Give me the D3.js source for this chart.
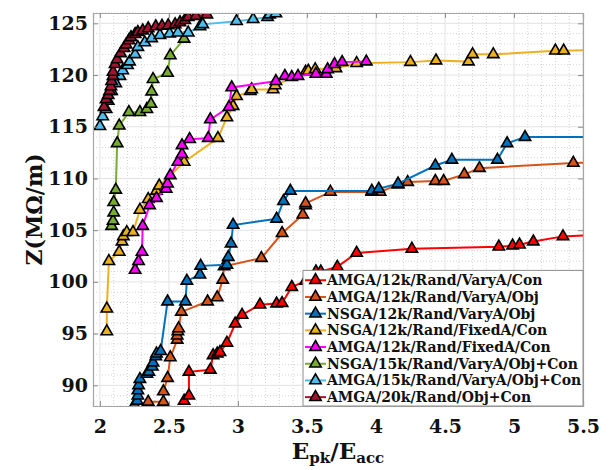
<!DOCTYPE html>
<html>
<head>
<meta charset="utf-8">
<script src="https://cdn.jsdelivr.net/npm/d3@7"></script>
<style>
    body { margin: 0; background: #fff; }
    text { font-family: "DejaVu Serif", serif; font-weight: bold; fill: #111; }
</style>
</head>
<body>
<div id="chart"></div>
<script>

let series_names = [
    "AMGA/12k/Rand/VaryA/Con",
    "AMGA/12k/Rand/VaryA/Obj",
    "NSGA/12k/Rand/VaryA/Obj",
    "NSGA/12k/Rand/FixedA/Con",
    "AMGA/12k/Rand/FixedA/Con",
    "NSGA/15k/Rand/VaryA/Obj+Con",
    "AMGA/15k/Rand/VaryA/Obj+Con",
    "AMGA/20k/Rand/Obj+Con",
];

let series_colors = ["#ff0000", "#d95319", "#0072bd", "#edb120", "#ff00ff", "#77ac30", "#4dbeee", "#a2142f"];

let x_ticks = [2, 2.5, 3, 3.5, 4, 4.5, 5, 5.5];
let y_ticks = [90, 95, 100, 105, 110, 115, 120, 125];

// AMGA/12k/Rand/VaryA/Con
let amga12_varya_con_x = [2.61, 2.645, 2.645, 2.80, 2.82, 2.85, 2.87, 2.92, 2.98, 3.03, 3.16, 3.28, 3.32, 3.39, 3.49, 3.565, 3.60, 3.72, 3.86, 4.26, 4.89, 4.99, 5.04, 5.14, 5.355, 5.7];
let amga12_varya_con_y = [88.5, 89.0, 91.3, 91.5, 92.9, 93.05, 93.2, 94.1, 95.95, 96.8, 97.8, 97.9, 97.95, 99.5, 100.1, 101.0, 101.0, 101.45, 102.8, 103.2, 103.4, 103.5, 103.6, 103.9, 104.4, 104.6];

// AMGA/12k/Rand/VaryA/Obj
let amga12_varya_obj_x = [2.35, 2.46, 2.46, 2.49, 2.51, 2.56, 2.56, 2.565, 2.57, 2.59, 2.78, 2.85, 2.89, 2.90, 3.17, 3.32, 3.47, 3.49, 3.49, 3.67, 3.97, 4.03, 4.16, 4.23, 4.43, 4.49, 4.64, 4.75, 5.43, 5.7];
let amga12_varya_obj_y = [88.4, 88.4, 89.4, 90.7, 92.7, 94.4, 94.8, 95.2, 95.5, 97.1, 98.1, 98.5, 100.2, 101.5, 102.3, 104.7, 106.5, 107.4, 107.6, 108.7, 108.7, 108.7, 109.4, 109.65, 109.75, 109.75, 110.4, 111.0, 111.5, 111.6];

// NSGA/12k/Rand/VaryA/Obj
let nsga12_varya_obj_x = [2.25, 2.27, 2.275, 2.275, 2.28, 2.29, 2.34, 2.355, 2.38, 2.385, 2.405, 2.41, 2.44, 2.49, 2.62, 2.63, 2.725, 2.73, 2.92, 2.93, 2.95, 2.965, 3.28, 3.33, 3.38, 3.97, 4.02, 4.16, 4.43, 4.55, 4.88, 4.95, 5.08, 5.7];
let nsga12_varya_obj_y = [88.1, 88.5, 89.0, 89.5, 90.0, 90.6, 91.1, 91.3, 91.8, 92.2, 92.8, 93.05, 93.3, 98.1, 98.1, 100.1, 100.7, 101.55, 101.65, 102.4, 103.7, 105.5, 106.1, 107.8, 108.8, 108.8, 109.0, 109.5, 111.25, 111.8, 111.8, 113.4, 114.0, 114.0];

// NSGA/12k/Rand/FixedA/Con
let nsga12_fixeda_con_x = [2.05, 2.05, 2.065, 2.14, 2.16, 2.17, 2.195, 2.24, 2.29, 2.35, 2.41, 2.43, 2.61, 2.855, 2.92, 2.965, 2.99, 3.09, 3.10, 3.255, 3.27, 3.49, 3.51, 3.56, 3.71, 3.86, 4.25, 4.435, 4.67, 4.70, 4.85, 5.30, 5.36, 5.7];
let nsga12_fixeda_con_y = [95.2, 97.4, 102.0, 102.9, 103.9, 104.4, 104.8, 104.8, 106.95, 108.0, 108.8, 109.3, 111.6, 113.9, 115.9, 117.0, 117.95, 118.45, 118.6, 118.6, 119.0, 120.3, 120.4, 120.55, 120.65, 121.15, 121.25, 121.4, 121.3, 122.0, 122.0, 122.35, 122.35, 122.45];

// AMGA/12k/Rand/FixedA/Con
let amga12_fixeda_con_x = [2.255, 2.28, 2.305, 2.31, 2.36, 2.41, 2.48, 2.49, 2.51, 2.565, 2.595, 2.595, 2.65, 2.785, 2.80, 2.935, 2.955, 3.275, 3.34, 3.39, 3.435, 3.565, 3.64, 3.65, 3.70, 3.755, 3.93];
let amga12_fixeda_con_y = [101.15, 102.0, 102.9, 105.4, 107.4, 108.1, 109.0, 109.5, 110.3, 111.6, 112.35, 113.2, 113.8, 113.9, 115.7, 116.9, 118.8, 119.4, 119.9, 119.8, 119.9, 120.1, 120.1, 120.55, 121.05, 121.25, 121.3];

// NSGA/15k/Rand/VaryA/Obj+Con
let nsga15_varya_objcon_x = [2.085, 2.095, 2.10, 2.10, 2.115, 2.125, 2.14, 2.21, 2.29, 2.34, 2.37, 2.375, 2.385, 2.49, 2.51, 2.61];
let nsga15_varya_objcon_y = [105.4, 105.9, 106.7, 107.7, 108.9, 113.4, 115.1, 116.4, 116.4, 116.7, 117.2, 118.4, 119.6, 120.2, 121.9, 123.5];

// AMGA/15k/Rand/VaryA/Obj+Con
let amga15_varya_objcon_x = [2.0, 2.02, 2.045, 2.06, 2.085, 2.115, 2.145, 2.165, 2.20, 2.215, 2.255, 2.275, 2.325, 2.375, 2.435, 2.505, 2.565, 2.64, 2.725, 2.745, 2.99, 3.11, 3.215, 3.23, 3.275];
let amga15_varya_objcon_y = [115.05, 116.0, 116.7, 117.5, 118.45, 119.2, 119.9, 120.45, 120.95, 121.3, 122.0, 122.7, 123.15, 123.55, 123.85, 124.0, 124.1, 124.1, 124.7, 124.9, 125.2, 125.4, 125.6, 125.85, 125.95];

// AMGA/20k/Rand/Obj+Con
let amga20_objcon_x = [2.03, 2.045, 2.06, 2.07, 2.08, 2.085, 2.095, 2.095, 2.11, 2.125, 2.15, 2.175, 2.19, 2.21, 2.225, 2.255, 2.275, 2.31, 2.35, 2.405, 2.45, 2.495, 2.545, 2.58, 2.615, 2.64, 2.695, 2.775];
let amga20_objcon_y = [116.9, 117.65, 118.05, 118.45, 118.9, 119.4, 119.9, 120.3, 121.05, 121.5, 122.1, 122.6, 122.95, 123.35, 123.65, 123.95, 124.15, 124.3, 124.5, 124.7, 124.75, 124.8, 124.9, 125.1, 125.3, 125.6, 125.7, 125.85];

let series_x = [amga12_varya_con_x, amga12_varya_obj_x, nsga12_varya_obj_x, nsga12_fixeda_con_x,
    amga12_fixeda_con_x, nsga15_varya_objcon_x, amga15_varya_objcon_x, amga20_objcon_x];
let series_y = [amga12_varya_con_y, amga12_varya_obj_y, nsga12_varya_obj_y, nsga12_fixeda_con_y,
    amga12_fixeda_con_y, nsga15_varya_objcon_y, amga15_varya_objcon_y, amga20_objcon_y];

let settings = {
    width: 610,
    height: 470,
    left: 93,
    top: 13,
    right: 27,
    bottom: 64,
    tick_len: 5,
    marker_size: 56,
    legend_width: 280,
    legend_row: 16.7,
};

function draw() {
    let w = settings.width, h = settings.height;
    let svg = d3.select("#chart").append("svg")
        .attr("width", w)
        .attr("height", h);

    let x0 = settings.left, x1 = w - settings.right;
    let y0 = settings.top, y1 = h - settings.bottom;

    let x = d3.scaleLinear().domain([1.95, 5.5]).range([x0, x1]);
    let y = d3.scaleLinear().domain([88, 126]).range([y1, y0]);

    // minor grid
    let grid = svg.append("g");
    grid.selectAll("line.minx")
        .data(d3.range(20, 55).map(d => d / 10).filter(d => !x_ticks.includes(d)))
        .enter().append("line")
        .attr("x1", d => x(d)).attr("x2", d => x(d))
        .attr("y1", y0).attr("y2", y1)
        .attr("stroke", "#d4d4d4").attr("stroke-dasharray", "1,2");
    grid.selectAll("line.miny")
        .data(d3.range(88, 127).filter(d => !y_ticks.includes(d)))
        .enter().append("line")
        .attr("y1", d => y(d)).attr("y2", d => y(d))
        .attr("x1", x0).attr("x2", x1)
        .attr("stroke", "#d4d4d4").attr("stroke-dasharray", "1,2");
    // major grid
    grid.selectAll("line.majx").data(x_ticks).enter().append("line")
        .attr("x1", d => x(d)).attr("x2", d => x(d))
        .attr("y1", y0).attr("y2", y1)
        .attr("stroke", "#e2e2e2");
    grid.selectAll("line.majy").data(y_ticks).enter().append("line")
        .attr("y1", d => y(d)).attr("y2", d => y(d))
        .attr("x1", x0).attr("x2", x1)
        .attr("stroke", "#e2e2e2");

    svg.append("clipPath").attr("id", "plot_clip")
        .append("rect")
        .attr("x", x0).attr("y", y0)
        .attr("width", x1 - x0).attr("height", y1 - y0);

    let plot = svg.append("g").attr("clip-path", "url(#plot_clip)");
    let line = d3.line().x(d => x(d[0])).y(d => y(d[1]));
    let tri = d3.symbol(d3.symbolTriangle, settings.marker_size);

    for (let [i, xs] of series_x.entries()) {
        let pts = xs.map((v, j) => [v, series_y[i][j]]);
        let g = plot.append("g");
        g.append("path")
            .attr("d", line(pts))
            .attr("fill", "none")
            .attr("stroke", series_colors[i])
            .attr("stroke-width", 2);
        g.selectAll("path.m").data(pts).enter().append("path")
            .attr("d", tri)
            .attr("transform", d => "translate(" + x(d[0]) + "," + y(d[1]) + ")")
            .attr("fill", series_colors[i])
            .attr("stroke", "#000")
            .attr("stroke-width", 1.6);
    }

    // axes, ticks pointing inward on all four sides
    let ax = svg.append("g");
    let bottom = d3.axisBottom(x).tickValues(x_ticks).tickSize(-settings.tick_len).tickPadding(14).tickFormat(d3.format("~g"));
    let top = d3.axisTop(x).tickValues(x_ticks).tickSize(-settings.tick_len).tickFormat("");
    let left = d3.axisLeft(y).tickValues(y_ticks).tickSize(-settings.tick_len).tickPadding(5);
    let right = d3.axisRight(y).tickValues(y_ticks).tickSize(-settings.tick_len).tickFormat("");

    ax.append("g").attr("transform", "translate(0," + y1 + ")").call(bottom);
    ax.append("g").attr("transform", "translate(0," + y0 + ")").call(top);
    ax.append("g").attr("transform", "translate(" + x0 + ",0)").call(left);
    ax.append("g").attr("transform", "translate(" + x1 + ",0)").call(right);

    ax.selectAll(".domain").attr("stroke", "#a6a6a6").attr("stroke-width", 1.2);
    ax.selectAll(".tick line").attr("stroke", "#8c8c8c");
    ax.selectAll(".tick text")
        .attr("font-family", "DejaVu Serif")
        .attr("font-weight", "bold")
        .attr("font-size", 19)
        .attr("fill", "#111");

    // axis titles
    let xl = svg.append("text")
        .attr("x", (x0 + x1) / 2)
        .attr("y", 459)
        .attr("text-anchor", "middle")
        .attr("font-size", 23);
    xl.append("tspan").text("E");
    xl.append("tspan").attr("font-size", 15).attr("dy", 4).text("pk");
    xl.append("tspan").attr("dy", -4).text("/E");
    xl.append("tspan").attr("font-size", 15).attr("dy", 4).text("acc");

    svg.append("text")
        .attr("transform", "translate(42," + (y0 + y1) / 2 + ") rotate(-90)")
        .attr("text-anchor", "middle")
        .attr("font-size", 22)
        .text("Z(MΩ/m)");

    // legend in the lower right corner
    let lw = settings.legend_width, lr = settings.legend_row;
    let lh = lr * series_names.length + 2;
    let lg = svg.append("g").attr("transform", "translate(" + (x1 - lw) + "," + (y1 - lh) + ")");
    lg.append("rect")
        .attr("width", lw).attr("height", lh)
        .attr("fill", "#fff").attr("stroke", "#8c8c8c");
    let rows = lg.selectAll("g.row").data(series_names).enter().append("g")
        .attr("transform", (d, i) => "translate(0," + (lr * i + lr / 2 + 1.5) + ")");
    rows.append("line")
        .attr("x1", 2).attr("x2", 23)
        .attr("stroke", (d, i) => series_colors[i])
        .attr("stroke-width", 2);
    rows.append("path")
        .attr("d", tri)
        .attr("transform", "translate(12.5,0)")
        .attr("fill", (d, i) => series_colors[i])
        .attr("stroke", "#000")
        .attr("stroke-width", 1.6);
    rows.append("text")
        .attr("x", 24)
        .attr("y", 5)
        .attr("font-size", 14)
        .text(d => d);
}

draw();
</script>
</body>
</html>
